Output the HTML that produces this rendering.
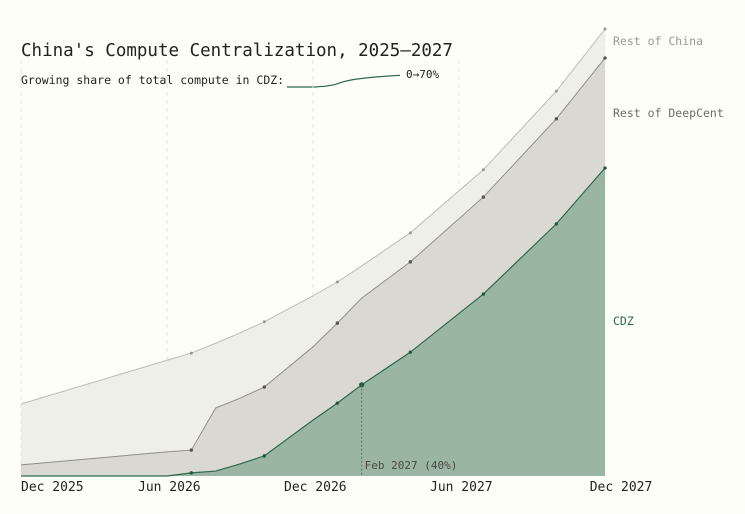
<!DOCTYPE html>
<html><head><meta charset="utf-8"><style>
html,body{margin:0;padding:0;background:#fefef8;}
svg{display:block;font-family:"DejaVu Sans Mono","Liberation Mono",monospace;}
</style></head><body>
<svg id="c" width="745" height="514">
<rect width="745" height="514" fill="#fefef8"/>
<text x="21" y="56" font-size="17.5" fill="#222">China's Compute Centralization, 2025–2027</text>
<text x="21" y="84" font-size="11.5" fill="#222">Growing share of total compute in CDZ:</text>
<g id="spark"></g>
<text x="406" y="78" font-size="11" fill="#222">0→70%</text>
<g id="grid"></g>
<g id="areas"></g>
<g id="axis"></g>
</svg>
<script>
const months = [0,6,7,8,9,10,12,13,14,16,19,22,24];
const chinaTotal = [16.1,25.9,27.5,29.7,32,34.5,40.3,43.4,47,54.4,68.5,86.1,100];
const deepcentTotal = [2.5,5.4,5.8,15.2,17.4,19.9,28.9,34.2,39.8,47.9,62.4,79.9,93.5];
const cdz = [0,0,0.7,1.1,2.7,4.5,12.5,16.3,20.4,27.7,40.7,56.4,68.9];
const chinaDots = [7,10,13,16,19,22,24];
const deepDots = [7,10,13,16,19,22,24];
const cdzDots = [7,10,13,14,16,19,22,24];
const tickMonths = [0,6,12,18,24];
const tickLabels = ["Dec 2025","Jun 2026","Dec 2026","Jun 2027","Dec 2027"];
const markerMonth = 14;
const markerLabel = "Feb 2027 (40%)";

const NS="http://www.w3.org/2000/svg";
const x = m => 21 + m*(584/24);
const y = v => 476 - v*4.47;
function mk(tag, attrs, parent){const e=document.createElementNS(NS,tag);for(const k in attrs)e.setAttribute(k,attrs[k]);parent.appendChild(e);return e;}
const grid=document.getElementById('grid'), areas=document.getElementById('areas'), axis=document.getElementById('axis'), spark=document.getElementById('spark');

tickMonths.slice(0,4).forEach(m=>{
  const l=mk('line',{x1:x(m),x2:x(m),y1:60,y2:476,stroke:'#e4e4dc','stroke-dasharray':'4,4','stroke-width':1},grid);
  
  
});

function linePts(vals){return months.map((m,i)=>x(m)+','+y(vals[i])).join(' ');}
function band(upper, lower, fill, name){
  let pts = months.map((m,i)=>x(m)+','+y(upper[i]));
  const lo = lower ? months.map((m,i)=>x(m)+','+y(lower[i])).reverse() : [x(24)+','+y(0), x(0)+','+y(0)];
  const p=mk('polygon',{points:pts.concat(lo).join(' '),fill:fill},areas);
  
  
}
band(chinaTotal, deepcentTotal, '#efefea', 'rest-of-china-area');
band(deepcentTotal, cdz, '#d9d9d2', 'rest-of-deepcent-area');
band(cdz, null, '#9bb5a3', 'cdz-area');

const l1=mk('polyline',{points:linePts(chinaTotal),fill:'none',stroke:'#bdbdb5','stroke-width':1},areas);


const l2=mk('polyline',{points:linePts(deepcentTotal),fill:'none',stroke:'#8f8f88','stroke-width':1},areas);


const l3=mk('polyline',{points:linePts(cdz),fill:'none',stroke:'#2d6a4a','stroke-width':1.2},areas);



// right edge line
const re=mk('line',{x1:x(24),x2:x(24),y1:y(chinaTotal[chinaTotal.length-1]),y2:476,stroke:'#e8e8e0','stroke-dasharray':'4,4'},grid);



function dots(list, vals, color, r, name){
  list.forEach(m=>{const i=months.indexOf(m);
    const c=mk('circle',{cx:x(m),cy:y(vals[i]),r:(m===markerMonth&&name==='cdz-point')?2.6:r,fill:color},areas);
    
    
  });
}
dots(chinaDots, chinaTotal, '#999992', 1.5, 'rest-of-china-point');
dots(deepDots, deepcentTotal, '#55554f', 1.7, 'rest-of-deepcent-point');
dots(cdzDots, cdz, '#1f5a3a', 1.7, 'cdz-point');

// marker
const mi=months.indexOf(markerMonth);
const ml=mk('line',{x1:x(markerMonth),x2:x(markerMonth),y1:y(cdz[mi]),y2:476,stroke:'#4f7a60','stroke-dasharray':'2,2','stroke-width':1},areas);


const mt=mk('text',{x:x(markerMonth)+3,y:469,'font-size':11,fill:'#4a4a44'},areas);
mt.textContent=markerLabel;



// series labels
[["Rest of China",45,'#9a9a94'],["Rest of DeepCent",117,'#6e6e68'],["CDZ",325,'#2d6a4a']].forEach(d=>{
  const t=mk('text',{x:613,y:d[1],'font-size':11.5,fill:d[2]},areas);
  t.textContent=d[0];
  
  
});

// x ticks
tickMonths.forEach((m,i)=>{
  const anchor = i===0?'start':(i===tickMonths.length-1?'middle':'start');
  const t=mk('text',{x: i===0?x(m):(i===4?x(m)+16:x(m)-29),y:491,'font-size':13,fill:'#222','text-anchor':anchor},axis);
  t.textContent=tickLabels[i];
  
  
});

// sparkline: share of cdz in total
const sx = m => 287 + m*(113/24);
const sy = s => 87 - s*17;
const sp=mk('polyline',{points:months.map((m,i)=>sx(m)+','+sy(cdz[i]/chinaTotal[i])).join(' '),fill:'none',stroke:'#2d6a4a','stroke-width':1.2},spark);


</script>
</body></html>
